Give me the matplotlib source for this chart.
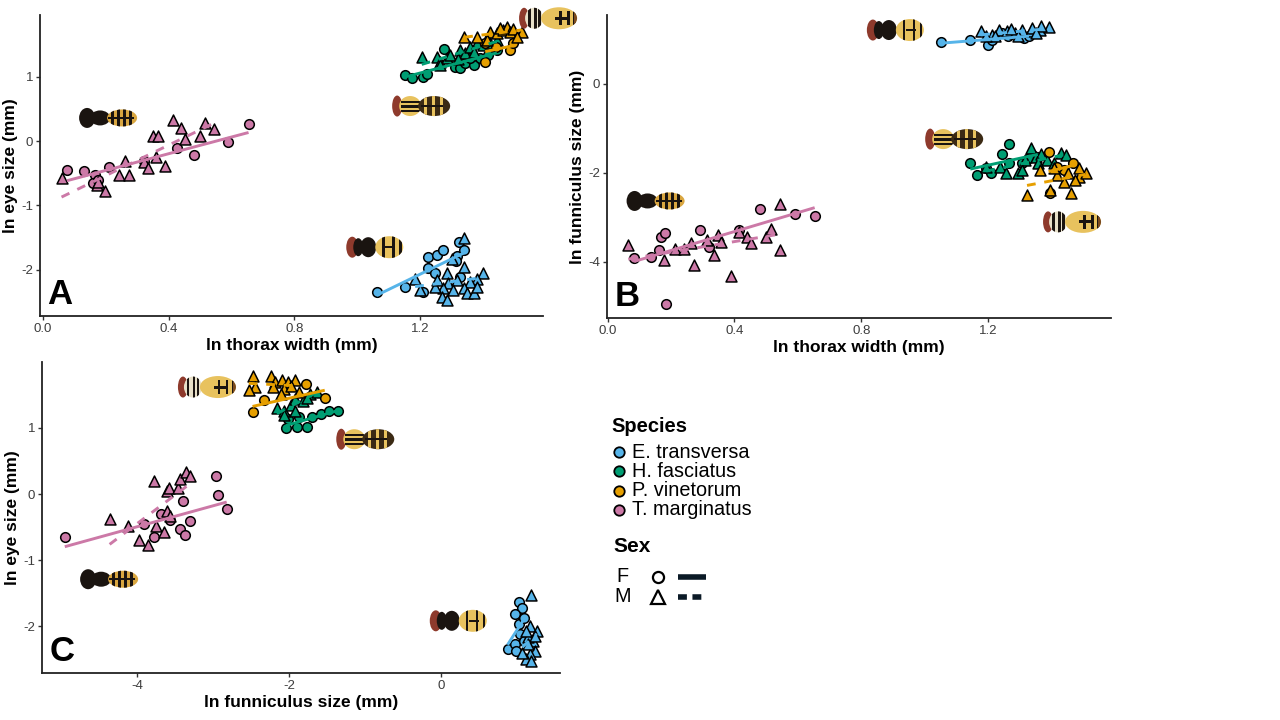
import numpy as np
import matplotlib
matplotlib.use('Agg')
from matplotlib import pyplot as plt
from matplotlib.offsetbox import DrawingArea, AnnotationBbox
from matplotlib.patches import Ellipse, Rectangle
from matplotlib.lines import Line2D

plt.rcParams['font.family'] = ['Liberation Sans', 'DejaVu Sans']

species = ['E. transversa', 'H. fasciatus', 'P. vinetorum', 'T. marginatus']
colors = {'E. transversa': '#56B4E9', 'H. fasciatus': '#009E73',
          'P. vinetorum': '#E69F00', 'T. marginatus': '#CC79A7'}

# ---- panel A: ln thorax width vs ln eye size ----
a_et_f = [(1.062, -2.353), (1.152, -2.266), (1.226, -1.81), (1.226, -1.98),
          (1.253, -1.773), (1.274, -1.695), (1.317, -1.788), (1.325, -1.576),
          (1.34, -1.695), (1.248, -2.058), (1.21, -2.34), (1.314, -1.861),
          (1.327, -2.11)]
a_et_m = [(1.34, -1.504), (1.30, -1.84), (1.338, -1.955), (1.401, -2.048),
          (1.38, -2.151), (1.359, -2.188), (1.285, -2.058), (1.29, -2.213),
          (1.274, -2.29), (1.248, -2.266), (1.2, -2.317), (1.184, -2.151),
          (1.269, -2.421), (1.285, -2.473), (1.338, -2.29), (1.348, -2.369),
          (1.37, -2.369), (1.38, -2.266), (1.253, -2.162), (1.317, -2.162),
          (1.306, -2.317)]
a_hf_f = [(1.152, 1.026), (1.173, 0.975), (1.21, 1.0), (1.221, 1.042),
          (1.276, 1.426), (1.311, 1.156), (1.327, 1.13), (1.343, 1.208),
          (1.37, 1.182), (1.391, 1.286), (1.417, 1.337), (1.444, 1.415),
          (1.359, 1.286), (1.295, 1.26)]
a_hf_m = [(1.205, 1.30), (1.253, 1.311), (1.264, 1.233), (1.285, 1.286),
          (1.295, 1.337), (1.327, 1.415), (1.343, 1.364), (1.359, 1.467),
          (1.38, 1.519), (1.401, 1.493), (1.423, 1.529), (1.444, 1.571),
          (1.264, 1.182), (1.322, 1.27), (1.37, 1.389)]
a_pv_f = [(1.407, 1.233), (1.407, 1.529), (1.486, 1.415), (1.497, 1.519),
          (1.44, 1.47)]
a_pv_m = [(1.34, 1.613), (1.423, 1.70), (1.444, 1.675), (1.465, 1.726),
          (1.476, 1.778), (1.486, 1.70), (1.497, 1.737), (1.524, 1.70),
          (1.508, 1.622), (1.455, 1.753), (1.38, 1.622), (1.412, 1.571)]
a_tm_f = [(0.076, -0.45), (0.132, -0.47), (0.167, -0.53), (0.159, -0.65),
          (0.209, -0.40), (0.32, -0.31), (0.427, -0.10), (0.479, -0.22),
          (0.59, -0.01), (0.654, 0.27), (0.175, -0.60)]
a_tm_m = [(0.059, -0.58), (0.173, -0.68), (0.198, -0.77), (0.176, -0.64),
          (0.241, -0.52), (0.26, -0.31), (0.273, -0.52), (0.321, -0.33),
          (0.335, -0.42), (0.351, 0.08), (0.367, 0.08), (0.36, -0.24),
          (0.388, -0.39), (0.414, 0.33), (0.438, 0.21), (0.451, 0.04),
          (0.501, 0.08), (0.514, 0.28), (0.544, 0.19)]

# ---- panel B: ln thorax width vs ln funniculus size ----
b_et_f = [(1.051, 0.938), (1.144, 0.975), (1.20, 0.863), (1.245, 1.14),
          (1.312, 1.028), (1.211, 0.99), (1.262, 1.065), (1.329, 1.08)]
b_et_m = [(1.178, 1.178), (1.211, 1.10), (1.234, 1.20), (1.259, 1.178),
          (1.284, 1.14), (1.307, 1.20), (1.335, 1.178), (1.363, 1.215),
          (1.391, 1.275), (1.368, 1.29), (1.34, 1.25), (1.273, 1.23),
          (1.222, 1.065), (1.295, 1.065), (1.35, 1.14), (1.195, 1.08)]
b_hf_f = [(1.144, -1.77), (1.166, -2.05), (1.194, -1.90), (1.209, -2.01),
          (1.245, -1.575), (1.267, -1.35), (1.267, -1.785), (1.307, -1.77),
          (1.329, -1.67), (1.357, -1.635)]
b_hf_m = [(1.194, -1.86), (1.239, -1.86), (1.256, -2.01), (1.295, -2.01),
          (1.318, -1.71), (1.335, -1.45), (1.35, -1.635), (1.368, -1.575),
          (1.385, -1.71), (1.43, -1.56), (1.447, -1.60), (1.307, -1.935),
          (1.357, -1.785), (1.407, -1.785)]
b_pv_f = [(1.391, -1.52), (1.469, -1.785), (1.396, -2.46), (1.441, -1.935),
          (1.419, -1.86)]
b_pv_m = [(1.323, -2.50), (1.396, -2.385), (1.463, -2.445), (1.441, -2.20),
          (1.419, -2.05), (1.486, -2.085), (1.508, -1.995), (1.475, -2.16),
          (1.407, -1.90), (1.486, -1.90), (1.452, -2.01), (1.363, -1.935)]
b_tm_f = [(0.084, -3.91), (0.138, -3.89), (0.163, -3.74), (0.168, -3.44),
          (0.182, -3.36), (0.183, -4.94), (0.292, -3.29), (0.32, -3.66),
          (0.415, -3.29), (0.48, -2.80), (0.591, -2.93), (0.653, -2.96)]
b_tm_m = [(0.065, -3.62), (0.177, -3.95), (0.213, -3.70), (0.241, -3.72),
          (0.264, -3.57), (0.273, -4.07), (0.314, -3.50), (0.336, -3.85),
          (0.347, -3.40), (0.358, -3.55), (0.39, -4.32), (0.415, -3.32),
          (0.438, -3.44), (0.452, -3.57), (0.499, -3.44), (0.516, -3.27),
          (0.544, -2.70), (0.544, -3.74)]

# ---- panel C: ln funniculus size vs ln eye size ----
c_et_f = [(0.875, -2.35), (0.97, -2.27), (1.02, -1.64), (1.07, -1.72),
          (0.97, -1.82), (1.02, -1.97), (1.09, -1.87), (1.035, -2.12),
          (0.99, -2.37), (1.09, -2.22)]
c_et_m = [(1.19, -1.53), (1.17, -2.0), (1.26, -2.07), (1.215, -2.22),
          (1.14, -2.17), (1.24, -2.37), (1.17, -2.42), (1.12, -2.50),
          (1.19, -2.53), (1.07, -2.40), (1.14, -2.27), (1.24, -2.15),
          (1.12, -2.07)]
c_hf_f = [(-2.04, 1.0), (-1.90, 1.02), (-1.77, 1.02), (-1.87, 1.16),
          (-1.70, 1.16), (-1.58, 1.21), (-1.47, 1.25), (-1.36, 1.26),
          (-2.01, 1.14)]
c_hf_m = [(-2.16, 1.30), (-2.06, 1.26), (-1.97, 1.35), (-1.92, 1.44),
          (-1.82, 1.41), (-1.73, 1.52), (-1.63, 1.54), (-1.77, 1.46),
          (-2.07, 1.19), (-1.92, 1.26)]
c_pv_f = [(-2.48, 1.24), (-2.33, 1.42), (-1.78, 1.66), (-1.53, 1.45)]
c_pv_m = [(-2.48, 1.78), (-2.45, 1.62), (-2.24, 1.78), (-2.19, 1.69),
          (-2.09, 1.73), (-2.02, 1.69), (-1.92, 1.73), (-2.21, 1.62),
          (-2.07, 1.59), (-1.97, 1.64), (-1.87, 1.54), (-2.11, 1.52),
          (-2.53, 1.58)]
c_tm_f = [(-4.95, -0.646), (-3.91, -0.455), (-3.77, -0.646), (-3.69, -0.30),
          (-3.56, -0.40), (-3.40, -0.10), (-3.43, -0.53), (-3.37, -0.62),
          (-3.30, -0.41), (-2.96, 0.27), (-2.93, -0.01), (-2.82, -0.23)]
c_tm_m = [(-4.36, -0.38), (-4.12, -0.49), (-3.98, -0.70), (-3.85, -0.77),
          (-3.77, 0.19), (-3.75, -0.49), (-3.65, -0.58), (-3.61, 0.05),
          (-3.58, 0.09), (-3.60, -0.25), (-3.56, -0.33), (-3.46, 0.09),
          (-3.43, 0.22), (-3.36, 0.34), (-3.30, 0.28)]

# bee icons: (species, x, y) in data units of each panel
bees_a = [('P. vinetorum', 1.607, 1.91), ('H. fasciatus', 1.20, 0.545),
          ('T. marginatus', 0.204, 0.36), ('E. transversa', 1.054, -1.65)]
bees_b = [('E. transversa', 0.906, 1.21), ('H. fasciatus', 1.09, -1.24),
          ('P. vinetorum', 1.465, -3.10), ('T. marginatus', 0.148, -2.63)]
bees_c = [('P. vinetorum', -3.08, 1.62), ('H. fasciatus', -1.01, 0.83),
          ('T. marginatus', -4.38, -1.29), ('E. transversa', 0.22, -1.92)]


def bee(kind):
    s = 0.72
    da = DrawingArea(58 * s, 22 * s, 0, 0)

    def ell(cx, cy, w, h, fc):
        e = Ellipse((cx * s, cy * s), w * s, h * s, fc=fc, ec='none', lw=0)
        da.add_artist(e)
        return e

    def bar(x0, y0, w, h, fc, clip):
        r = Rectangle((x0 * s, y0 * s), w * s, h * s, fc=fc, ec='none', lw=0)
        da.add_artist(r)
        r.set_clip_path(clip)

    red = '#8E3A2C'
    yel = '#E8C25E'
    blk = '#1A1410'
    if kind == 'T. marginatus':
        ell(9, 11, 16, 20, blk)
        ell(22, 11, 20, 15, blk)
        ab = ell(44, 11, 30, 17, '#D9A640')
        for x0 in (33, 39, 45, 51):
            bar(x0, 0, 3, 22, blk, ab)
        bar(30, 10, 26, 2, blk, ab)
    elif kind == 'E. transversa':
        ell(7, 11, 12, 21, red)
        ell(13, 11, 10, 18, blk)
        ell(23, 11, 16, 20, blk)
        ab = ell(44, 11, 28, 22, yel)
        for x0 in (37, 47, 54):
            bar(x0, 0, 2.5, 22, blk, ab)
        bar(40, 10, 10, 2, blk, ab)
    elif kind == 'H. fasciatus':
        ell(6, 11, 10, 21, red)
        th = ell(19, 11, 22, 20, yel)
        for y0 in (5, 9.5, 14):
            bar(10, y0, 20, 2.5, blk, th)
        ab = ell(43, 11, 32, 20, '#3B2A14')
        for x0 in (33, 41, 49):
            bar(x0, 0, 2.5, 22, yel, ab)
        bar(30, 10, 22, 2, blk, ab)
    else:
        ell(5, 11, 10, 21, red)
        hd = ell(15, 11, 18, 21, '#E8E0C8')
        for x0 in (9, 15, 19):
            bar(x0, 0, 2.5, 22, blk, hd)
        ab = ell(40, 11, 36, 22, yel)
        bar(36, 9.5, 14, 3, blk, ab)
        for x0 in (40, 48, 54):
            bar(x0, 4, 2.5, 14, blk, ab)
        bar(55, 0, 4, 22, '#7A4A20', ab)
    return da


def panel(ax, groups, bees, xlim, ylim, xticks, yticks, xlabel, ylabel, letter):
    for sp in species:
        for sex, mk, ls in (('F', 'o', '-'), ('M', '^', (0, (3, 3)))):
            pts = np.array(groups[(sp, sex)])
            ax.scatter(pts[:, 0], pts[:, 1], s=48 if mk == 'o' else 62,
                       marker=mk, c=colors[sp], edgecolors='black',
                       linewidths=1.1, zorder=2)
            k, b = np.polyfit(pts[:, 0], pts[:, 1], 1)
            xs = np.array([pts[:, 0].min(), pts[:, 0].max()])
            ax.plot(xs, k * xs + b, color=colors[sp], lw=2.1, ls=ls,
                    zorder=3, solid_capstyle='butt')
    for sp, x, y in bees:
        ab = AnnotationBbox(bee(sp), (x, y), xycoords='data', frameon=False,
                            box_alignment=(0.5, 0.5), pad=0,
                            annotation_clip=False, zorder=5)
        ax.add_artist(ab)
    ax.set_xlim(*xlim)
    ax.set_ylim(*ylim)
    ax.set_xticks(xticks)
    ax.set_yticks(yticks)
    ax.set_xticklabels([('%.1f' % t) if isinstance(t, float) else str(t)
                        for t in xticks])
    ax.set_yticklabels([str(t) for t in yticks])
    for side in ('top', 'right'):
        ax.spines[side].set_visible(False)
    for side in ('left', 'bottom'):
        ax.spines[side].set_linewidth(1.3)
        ax.spines[side].set_color('#222222')
    ax.tick_params(length=3, width=1, colors='#333333', labelsize=9.5,
                   labelcolor='#3D3D3D', pad=2)
    ax.set_xlabel(xlabel, fontsize=12.5, fontweight='bold', labelpad=2)
    ax.set_ylabel(ylabel, fontsize=12.5, fontweight='bold', labelpad=2)
    ax.text(0.015, 0.015, letter, transform=ax.transAxes, ha='left',
            va='bottom', fontsize=25, fontweight='bold', zorder=6)


fig = plt.figure(figsize=(12.8, 7.2), dpi=100)
axA = fig.add_axes([0.03125, 0.5611, 0.393, 0.418])
axB = fig.add_axes([0.474, 0.5583, 0.394, 0.421])
axC = fig.add_axes([0.0328, 0.0653, 0.405, 0.432])

groups_a = {('E. transversa', 'F'): a_et_f, ('E. transversa', 'M'): a_et_m,
            ('H. fasciatus', 'F'): a_hf_f, ('H. fasciatus', 'M'): a_hf_m,
            ('P. vinetorum', 'F'): a_pv_f, ('P. vinetorum', 'M'): a_pv_m,
            ('T. marginatus', 'F'): a_tm_f, ('T. marginatus', 'M'): a_tm_m}
groups_b = {('E. transversa', 'F'): b_et_f, ('E. transversa', 'M'): b_et_m,
            ('H. fasciatus', 'F'): b_hf_f, ('H. fasciatus', 'M'): b_hf_m,
            ('P. vinetorum', 'F'): b_pv_f, ('P. vinetorum', 'M'): b_pv_m,
            ('T. marginatus', 'F'): b_tm_f, ('T. marginatus', 'M'): b_tm_m}
groups_c = {('E. transversa', 'F'): c_et_f, ('E. transversa', 'M'): c_et_m,
            ('H. fasciatus', 'F'): c_hf_f, ('H. fasciatus', 'M'): c_hf_m,
            ('P. vinetorum', 'F'): c_pv_f, ('P. vinetorum', 'M'): c_pv_m,
            ('T. marginatus', 'F'): c_tm_f, ('T. marginatus', 'M'): c_tm_m}

panel(axA, groups_a, bees_a, (-0.0095, 1.591), (-2.72, 1.96),
      [0.0, 0.4, 0.8, 1.2], [-2, -1, 0, 1],
      'ln thorax width (mm)', 'ln eye size (mm)', 'A')
panel(axB, groups_b, bees_b, (-0.003, 1.588), (-5.26, 1.55),
      [0.0, 0.4, 0.8, 1.2], [-4, -2, 0],
      'ln thorax width (mm)', 'ln funniculus size (mm)', 'B')
panel(axC, groups_c, bees_c, (-5.25, 1.57), (-2.71, 2.0),
      [-4, -2, 0], [-2, -1, 0, 1],
      'ln funniculus size (mm)', 'ln eye size (mm)', 'C')

# legend drawn in pixel space
lg = fig.add_axes([0, 0, 1, 1], zorder=10)
lg.set_xlim(0, 1280)
lg.set_ylim(720, 0)
lg.axis('off')
lg.text(611, 426, 'Species', fontsize=14.5, fontweight='bold', va='center')
for i, sp in enumerate(species):
    yy = 452 + i * 19.3
    lg.plot([619], [yy], marker='o', ms=7.5, mfc=colors[sp], mec='black',
            mew=1.3, ls='none')
    lg.text(632, yy, sp, fontsize=14.3, va='center')
lg.text(613, 546, 'Sex', fontsize=15, fontweight='bold', va='center')
lg.text(616, 577, 'F', fontsize=14.3, va='center')
lg.text(614, 597, 'M', fontsize=14.3, va='center')
lg.plot([658], [577], marker='o', ms=8, mfc='white', mec='black', mew=1.6)
lg.plot([658], [597], marker='^', ms=10, mfc='white', mec='black', mew=1.6)
lg.add_line(Line2D([678, 706], [577, 577], color='#0B1A26', lw=4,
                   solid_capstyle='butt'))
lg.add_line(Line2D([678, 706], [597, 597], color='#0B1A26', lw=4,
                   ls=(0, (1.6, 1.0)), dash_capstyle='butt'))

fig.savefig('out.png', dpi=100)
